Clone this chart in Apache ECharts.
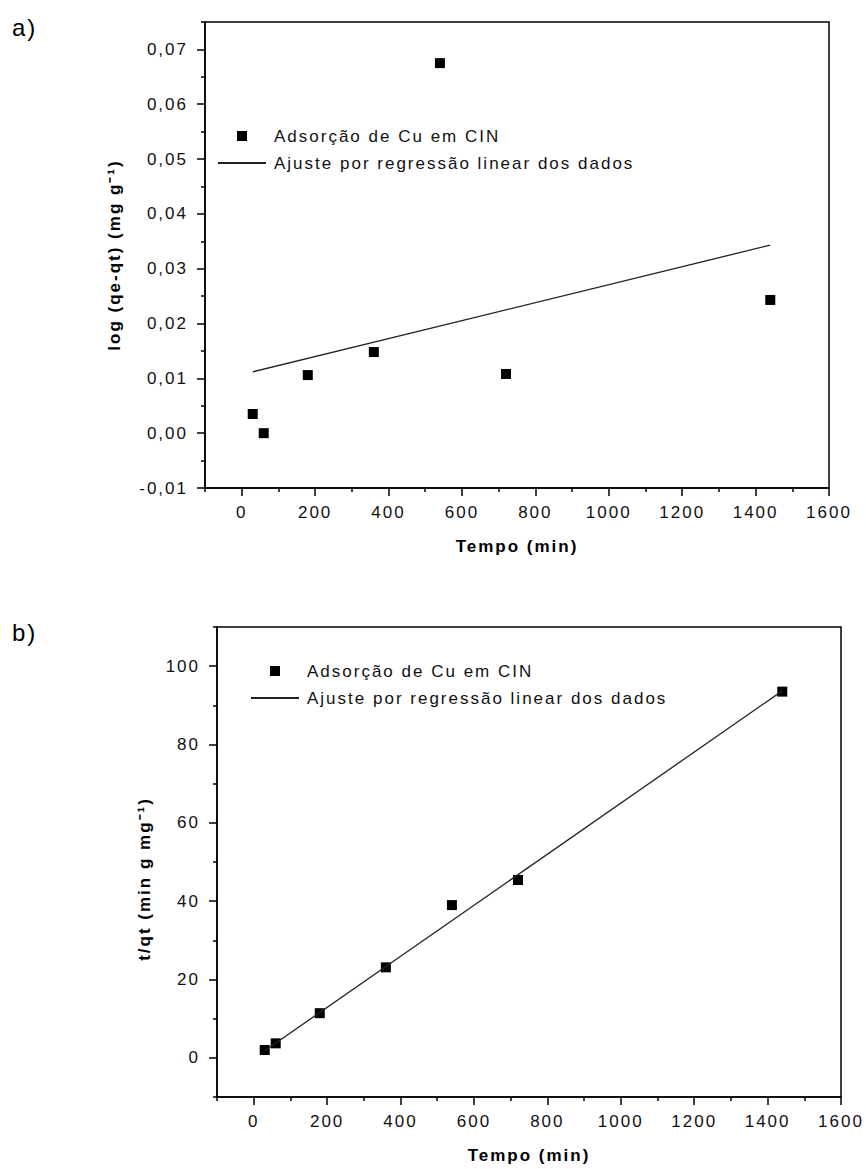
<!DOCTYPE html>
<html>
<head>
<meta charset="utf-8">
<script src="https://cdn.jsdelivr.net/npm/echarts@6/dist/echarts.min.js"></script>
<style>
	html, body { margin: 0; padding: 0; background: #fff; }
	#chart { width: 866px; height: 1169px; }
	#chart text { letter-spacing: 2px; }
</style>
</head>
<body>
<div id="chart"></div>
<script>
	// tempo de contato (min)
	var tempo = [30, 60, 180, 360, 540, 720, 1440];
	// a) pseudo-primeira ordem
	var logQ = [0.0035, 0.0000, 0.0106, 0.0148, 0.0675, 0.0108, 0.0243];
	// b) pseudo-segunda ordem
	var tQt = [2.0, 3.7, 11.4, 23.1, 39.0, 45.4, 93.5];
	// retas de ajuste (extremos)
	var ajusteTempo = [30, 1440];
	var ajusteLogQ = [0.0112, 0.0343];
	var ajusteTQt = [1.8, 93.7];

	var xTicks = [0, 200, 400, 600, 800, 1000, 1200, 1400, 1600];
	var xMinor = [-100, 100, 300, 500, 700, 900, 1100, 1300, 1500];
	var yTicksA = [-0.01, 0, 0.01, 0.02, 0.03, 0.04, 0.05, 0.06, 0.07];
	var yMinorA = [-0.005, 0.005, 0.015, 0.025, 0.035, 0.045, 0.055, 0.065, 0.075];
	var yTicksB = [0, 20, 40, 60, 80, 100];
	var yMinorB = [-10, 10, 30, 50, 70, 90, 110];

	var nomePontos = 'Adsorção de Cu em CIN';
	var nomeAjuste = 'Ajuste por regressão linear dos dados';

	var font = 'Liberation Sans';
	var black = '#000';

	function pares(xs, ys) {
		var out = [];
		for (var i = 0; i < xs.length; i++) out.push([xs[i], ys[i]]);
		return out;
	}

	function eixoX(grid) {
		return {
			type: 'value', gridIndex: grid, min: -100, max: 1600, position: 'bottom',
			name: 'Tempo (min)', nameLocation: 'middle', nameGap: 50,
			nameTextStyle: { fontFamily: font, fontSize: 17, fontWeight: 'bold', color: black },
			axisLine: { onZero: false, lineStyle: { color: black, width: 1.5 } },
			axisTick: { customValues: xTicks, length: 8, lineStyle: { color: black, width: 1.5 } },
			axisLabel: {
				customValues: xTicks, margin: 16, fontFamily: font, fontSize: 17, color: '#111',
				formatter: function (v) { return String(v); }
			},
			splitLine: { show: false }
		};
	}
	function eixoXMenor(grid) {
		return {
			type: 'value', gridIndex: grid, min: -100, max: 1600, position: 'bottom',
			axisLine: { show: false, onZero: false },
			axisTick: { customValues: xMinor, length: 4, lineStyle: { color: black, width: 1.5 } },
			axisLabel: { show: false },
			splitLine: { show: false }
		};
	}
	function eixoYMenor(grid, min, max, valores) {
		return {
			type: 'value', gridIndex: grid, min: min, max: max, position: 'left',
			axisLine: { show: false, onZero: false },
			axisTick: { customValues: valores, length: 4, lineStyle: { color: black, width: 1.5 } },
			axisLabel: { show: false },
			splitLine: { show: false }
		};
	}
	function legenda(left, top) {
		return {
			orient: 'vertical', left: left, top: top, padding: 0, itemGap: 7, itemWidth: 48, itemHeight: 10,
			textStyle: { fontFamily: font, fontSize: 17, color: '#111', lineHeight: 20, padding: [0, 0, 0, 3] },
			data: [
				{ name: nomePontos, icon: 'path://M0,0H10V10H0Z' },
				{ name: nomeAjuste, itemStyle: { opacity: 0 } }
			]
		};
	}

	var chart = echarts.init(document.getElementById('chart'), null, { renderer: 'svg' });
	var option = {
		animation: false,
		backgroundColor: '#fff',
		title: [
			{ text: 'a)', left: 12, top: 15, padding: 0, textStyle: { fontFamily: font, fontSize: 24, fontWeight: 'normal', color: black } },
			{ text: 'b)', left: 12, top: 620, padding: 0, textStyle: { fontFamily: font, fontSize: 24, fontWeight: 'normal', color: black } }
		],
		grid: [
			{ left: 205, top: 22, width: 624, height: 466, show: true, borderColor: black, borderWidth: 1.5, outerBoundsMode: 'none' },
			{ left: 217, top: 627, width: 624, height: 470, show: true, borderColor: black, borderWidth: 1.5, outerBoundsMode: 'none' }
		],
		legend: [legenda(217, 126), legenda(250, 661)],
		xAxis: [eixoX(0), eixoXMenor(0), eixoX(1), eixoXMenor(1)],
		yAxis: [
			{
				type: 'value', gridIndex: 0, min: -0.01, max: 0.075, position: 'left',
				name: 'log (qe-qt) (mg g⁻¹)', nameLocation: 'middle', nameGap: 82,
				nameTextStyle: { fontFamily: font, fontSize: 17, fontWeight: 'bold', color: black },
				axisLine: { onZero: false, lineStyle: { color: black, width: 1.5 } },
				axisTick: { customValues: yTicksA, length: 8, lineStyle: { color: black, width: 1.5 } },
				axisLabel: {
					customValues: yTicksA, margin: 17, fontFamily: font, fontSize: 17, color: '#111',
					formatter: function (v) { return v.toFixed(2).replace('.', ','); }
				},
				splitLine: { show: false }
			},
			eixoYMenor(0, -0.01, 0.075, yMinorA),
			{
				type: 'value', gridIndex: 1, min: -10, max: 110, position: 'left',
				name: 't/qt (min g mg⁻¹)', nameLocation: 'middle', nameGap: 64,
				nameTextStyle: { fontFamily: font, fontSize: 17, fontWeight: 'bold', color: black, padding: [0, 34, 0, 0] },
				axisLine: { onZero: false, lineStyle: { color: black, width: 1.5 } },
				axisTick: { customValues: yTicksB, length: 8, lineStyle: { color: black, width: 1.5 } },
				axisLabel: { customValues: yTicksB, margin: 17, fontFamily: font, fontSize: 17, color: '#111' },
				splitLine: { show: false }
			},
			eixoYMenor(1, -10, 110, yMinorB)
		],
		series: [
			{
				name: nomeAjuste, type: 'line', xAxisIndex: 0, yAxisIndex: 0,
				data: pares(ajusteTempo, ajusteLogQ), symbol: 'none',
				lineStyle: { color: '#222', width: 1.3 }, itemStyle: { color: '#222' }
			},
			{
				name: nomePontos, type: 'scatter', xAxisIndex: 0, yAxisIndex: 0,
				data: pares(tempo, logQ), symbol: 'rect', symbolSize: 10, itemStyle: { color: black, opacity: 1 }
			},
			{
				name: nomeAjuste, type: 'line', xAxisIndex: 2, yAxisIndex: 2,
				data: pares(ajusteTempo, ajusteTQt), symbol: 'none',
				lineStyle: { color: '#222', width: 1.3 }, itemStyle: { color: '#222' }
			},
			{
				name: nomePontos, type: 'scatter', xAxisIndex: 2, yAxisIndex: 2,
				data: pares(tempo, tQt), symbol: 'rect', symbolSize: 10, itemStyle: { color: black, opacity: 1 }
			}
		]
	};
	chart.setOption(option);
</script>
</body>
</html>
